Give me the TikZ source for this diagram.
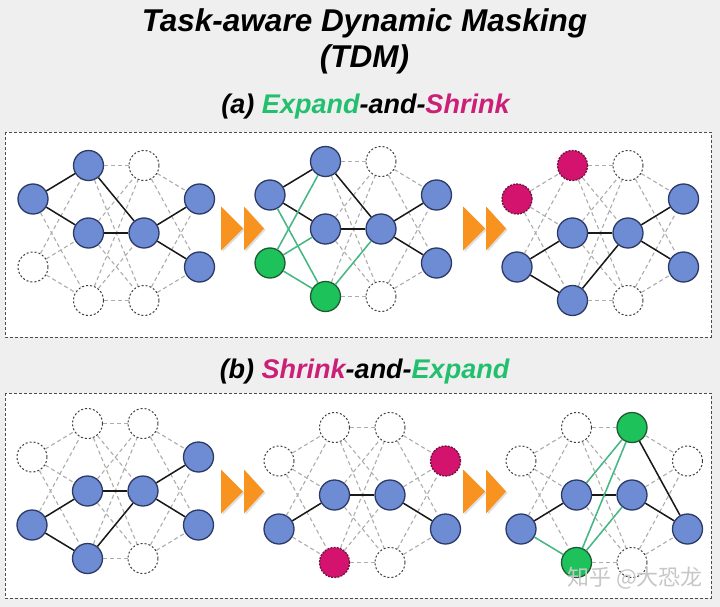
\documentclass[tikz,border=0pt]{standalone}
\usepackage{fontspec}
\setmainfont{Liberation Sans}
\newfontfamily\cjk{Noto Sans CJK SC}
\usetikzlibrary{shadows}
\definecolor{bgc}{HTML}{EFEFEF}
\definecolor{nblue}{HTML}{6E8CD4}
\definecolor{nbord}{HTML}{2C3A66}
\definecolor{ngreen}{HTML}{1EC25A}
\definecolor{ngbord}{HTML}{1E5A32}
\definecolor{nmag}{HTML}{D3136E}
\definecolor{nmbord}{HTML}{6E1040}
\definecolor{egreen}{HTML}{45B985}
\definecolor{tgreen}{HTML}{22C06E}
\definecolor{tmag}{HTML}{CC1F78}
\definecolor{orng}{HTML}{F7931E}
\newcommand\mynet[4]{%
  \begin{scope}[shift={(#2,#3)}]
  \foreach \s [count=\i from 0] in {#4}{%
    \ifcase\i
      \node[style=\s] (#1-00) at (0,-34) {};\or
      \node[style=\s] (#1-01) at (0,34) {};\or
      \node[style=\s] (#1-10) at (55.5,-67.5) {};\or
      \node[style=\s] (#1-11) at (55.5,0) {};\or
      \node[style=\s] (#1-12) at (55.5,67.5) {};\or
      \node[style=\s] (#1-20) at (111,-67.5) {};\or
      \node[style=\s] (#1-21) at (111,0) {};\or
      \node[style=\s] (#1-22) at (111,67.5) {};\or
      \node[style=\s] (#1-30) at (166.5,-34) {};\or
      \node[style=\s] (#1-31) at (166.5,34) {};
    \fi}
  \end{scope}
  \foreach \a in {00,01}{\foreach \b in {10,11,12}{\draw[ge] (#1-\a) -- (#1-\b);}}
  \foreach \a in {10,11,12}{\foreach \b in {20,21,22}{\draw[ge] (#1-\a) -- (#1-\b);}}
  \foreach \a in {20,21,22}{\foreach \b in {30,31}{\draw[ge] (#1-\a) -- (#1-\b);}}
}
\begin{document}
\begin{tikzpicture}[x=1pt,y=-1pt,
  nd/.style={circle,minimum size=30pt,inner sep=0pt,line width=1.3pt},
  bl/.style={nd,fill=nblue,draw=nbord},
  gr/.style={nd,fill=ngreen,draw=ngbord},
  mg/.style={nd,fill=nmag,draw=nmbord,dash pattern=on 2pt off 1.2pt},
  em/.style={nd,fill=white,draw=black!75,line width=1pt,dash pattern=on 2pt off 2pt},
  ge/.style={draw=black!32,line width=1.1pt,dash pattern=on 4pt off 3pt},
  be/.style={draw=black!90,line width=1.5pt},
  ce/.style={draw=egreen,line width=1.5pt},
  panel/.style={draw=black!70,line width=0.8pt,dash pattern=on 3pt off 2pt,fill=white},
  tri/.style={fill=orng,drop shadow={opacity=0.25,shadow xshift=1.5pt,shadow yshift=-1.5pt}},
  ttl/.style={anchor=base,inner sep=0pt,font=\fontsize{31.5}{36}\selectfont\bfseries\itshape},
  lbl/.style={anchor=base,inner sep=0pt,font=\fontsize{27}{32}\selectfont\bfseries\itshape},
]
\useasboundingbox (0,0) rectangle (720,607);
\fill[bgc] (0,0) rectangle (720,607);
\draw[panel] (5,132) rectangle (711,337);
\draw[panel] (5,393) rectangle (711,598);

\node[ttl] (t1) at (364.5,32) {Task-aware Dynamic Masking};
\node[ttl] (t2) at (364.5,68) {(TDM)};
\node[lbl] (la) at (365.5,114) {(a) \textcolor{tgreen}{Expand}-and-\textcolor{tmag}{Shrink}};
\node[lbl] (lb) at (364.5,378) {(b) \textcolor{tmag}{Shrink}-and-\textcolor{tgreen}{Expand}};

% arrows
\foreach \x/\y in {221/228.5,463/228.5,221/491.5,463/491.5}{
  \fill[tri] (\x,\y-22) -- (\x+22,\y) -- (\x,\y+22) -- cycle;
  \fill[tri] (\x+23,\y-22) -- (\x+43,\y) -- (\x+23,\y+22) -- cycle;
}

% (a) graph 1
\mynet{a1}{33}{233}{bl,em,bl,bl,em,em,bl,em,bl,bl}
\foreach \a/\b in {00/10,00/11,10/21,11/21,21/30,21/31}{\draw[be] (a1-\a) -- (a1-\b);}
% (a) graph 2
\mynet{a2}{270}{229}{bl,gr,bl,bl,gr,em,bl,em,bl,bl}
\foreach \a/\b in {00/10,00/11,10/21,11/21,21/30,21/31}{\draw[be] (a2-\a) -- (a2-\b);}
\foreach \a/\b in {01/10,01/11,01/12,00/12,12/21}{\draw[ce] (a2-\a) -- (a2-\b);}
% (a) graph 3
\mynet{a3}{517}{233}{mg,bl,mg,bl,bl,em,bl,em,bl,bl}
\foreach \a/\b in {01/11,01/12,11/21,12/21,21/30,21/31}{\draw[be] (a3-\a) -- (a3-\b);}

% (b) graph 1
\mynet{b1}{32}{491}{em,bl,em,bl,bl,em,bl,em,bl,bl}
\foreach \a/\b in {01/11,01/12,11/21,12/21,21/30,21/31}{\draw[be] (b1-\a) -- (b1-\b);}
% (b) graph 2
\mynet{b2}{279}{495}{em,bl,em,bl,mg,em,bl,em,mg,bl}
\foreach \a/\b in {01/11,11/21,21/31}{\draw[be] (b2-\a) -- (b2-\b);}
% (b) graph 3
\mynet{b3}{521}{495}{em,bl,em,bl,gr,gr,bl,em,em,bl}
\foreach \a/\b in {01/11,11/21,21/31,20/31}{\draw[be] (b3-\a) -- (b3-\b);}
\foreach \a/\b in {01/12,11/20,12/20,12/21}{\draw[ce] (b3-\a) -- (b3-\b);}

\node[text=black!22,font=\cjk\fontsize{22}{24}\selectfont,inner sep=0pt] (wm) at (635,578) {知乎 @大恐龙};
\end{tikzpicture}
\end{document}
